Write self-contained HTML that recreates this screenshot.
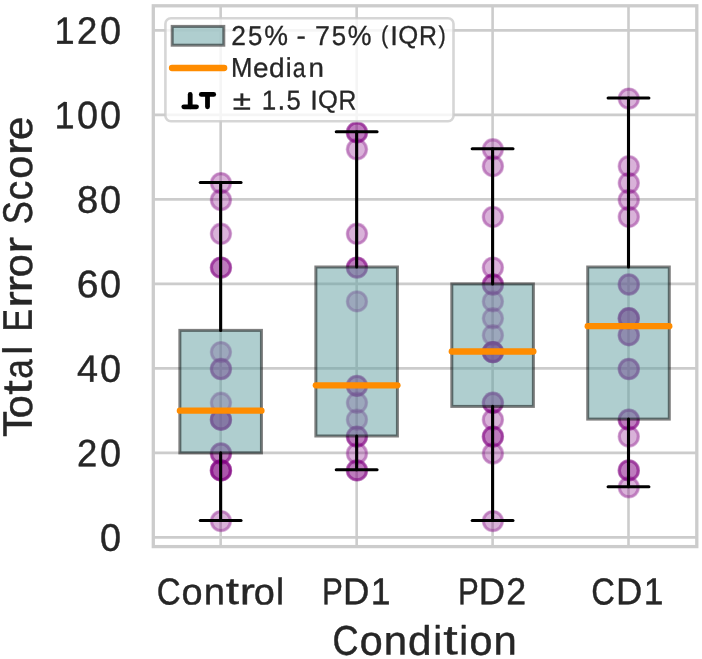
<!DOCTYPE html>
<html><head><meta charset="utf-8"><title>Total Error Score by Condition</title><style>html,body{margin:0;padding:0;background:#fff;}body{width:702px;height:659px;overflow:hidden;}svg{display:block;will-change:transform;font-family:"Liberation Sans",sans-serif;font-kerning:none;font-variant-ligatures:none;}text{font-kerning:none;}</style></head><body>
<svg width="702" height="659" viewBox="0 0 702 659" font-family="Liberation Sans, sans-serif">
<rect width="702" height="659" fill="#ffffff"/>
<g stroke="#cccccc" stroke-width="2.6" fill="none">
<line x1="153.3" y1="537.40" x2="696.8" y2="537.40"/>
<line x1="153.3" y1="452.90" x2="696.8" y2="452.90"/>
<line x1="153.3" y1="368.40" x2="696.8" y2="368.40"/>
<line x1="153.3" y1="283.90" x2="696.8" y2="283.90"/>
<line x1="153.3" y1="199.40" x2="696.8" y2="199.40"/>
<line x1="153.3" y1="114.90" x2="696.8" y2="114.90"/>
<line x1="153.3" y1="30.40" x2="696.8" y2="30.40"/>
<line x1="220.65" y1="5.8" x2="220.65" y2="546.6"/>
<line x1="356.65" y1="5.8" x2="356.65" y2="546.6"/>
<line x1="492.60" y1="5.8" x2="492.60" y2="546.6"/>
<line x1="628.50" y1="5.8" x2="628.50" y2="546.6"/>
</g>
<g fill="#800080" fill-opacity="0.3" stroke="#800080" stroke-opacity="0.3" stroke-width="2.6">
<circle cx="220.95" cy="183.10" r="11.2" stroke="none"/>
<circle cx="220.95" cy="183.10" r="9.2" fill="none"/>
<circle cx="220.95" cy="200.00" r="11.2" stroke="none"/>
<circle cx="220.95" cy="200.00" r="9.2" fill="none"/>
<circle cx="220.95" cy="233.80" r="11.2" stroke="none"/>
<circle cx="220.95" cy="233.80" r="9.2" fill="none"/>
<circle cx="220.95" cy="267.60" r="11.2" stroke="none"/>
<circle cx="220.95" cy="267.60" r="9.2" fill="none"/>
<circle cx="220.95" cy="267.60" r="11.2" stroke="none"/>
<circle cx="220.95" cy="267.60" r="9.2" fill="none"/>
<circle cx="220.95" cy="352.10" r="11.2" stroke="none"/>
<circle cx="220.95" cy="352.10" r="9.2" fill="none"/>
<circle cx="220.95" cy="369.00" r="11.2" stroke="none"/>
<circle cx="220.95" cy="369.00" r="9.2" fill="none"/>
<circle cx="220.95" cy="369.00" r="11.2" stroke="none"/>
<circle cx="220.95" cy="369.00" r="9.2" fill="none"/>
<circle cx="220.95" cy="402.80" r="11.2" stroke="none"/>
<circle cx="220.95" cy="402.80" r="9.2" fill="none"/>
<circle cx="220.95" cy="419.70" r="11.2" stroke="none"/>
<circle cx="220.95" cy="419.70" r="9.2" fill="none"/>
<circle cx="220.95" cy="419.70" r="11.2" stroke="none"/>
<circle cx="220.95" cy="419.70" r="9.2" fill="none"/>
<circle cx="220.95" cy="419.70" r="11.2" stroke="none"/>
<circle cx="220.95" cy="419.70" r="9.2" fill="none"/>
<circle cx="220.95" cy="453.50" r="11.2" stroke="none"/>
<circle cx="220.95" cy="453.50" r="9.2" fill="none"/>
<circle cx="220.95" cy="453.50" r="11.2" stroke="none"/>
<circle cx="220.95" cy="453.50" r="9.2" fill="none"/>
<circle cx="220.95" cy="470.40" r="11.2" stroke="none"/>
<circle cx="220.95" cy="470.40" r="9.2" fill="none"/>
<circle cx="220.95" cy="470.40" r="11.2" stroke="none"/>
<circle cx="220.95" cy="470.40" r="9.2" fill="none"/>
<circle cx="220.95" cy="470.40" r="11.2" stroke="none"/>
<circle cx="220.95" cy="470.40" r="9.2" fill="none"/>
<circle cx="220.95" cy="521.10" r="11.2" stroke="none"/>
<circle cx="220.95" cy="521.10" r="9.2" fill="none"/>
<circle cx="356.95" cy="132.40" r="11.2" stroke="none"/>
<circle cx="356.95" cy="132.40" r="9.2" fill="none"/>
<circle cx="356.95" cy="132.40" r="11.2" stroke="none"/>
<circle cx="356.95" cy="132.40" r="9.2" fill="none"/>
<circle cx="356.95" cy="149.30" r="11.2" stroke="none"/>
<circle cx="356.95" cy="149.30" r="9.2" fill="none"/>
<circle cx="356.95" cy="233.80" r="11.2" stroke="none"/>
<circle cx="356.95" cy="233.80" r="9.2" fill="none"/>
<circle cx="356.95" cy="267.60" r="11.2" stroke="none"/>
<circle cx="356.95" cy="267.60" r="9.2" fill="none"/>
<circle cx="356.95" cy="267.60" r="11.2" stroke="none"/>
<circle cx="356.95" cy="267.60" r="9.2" fill="none"/>
<circle cx="356.95" cy="301.40" r="11.2" stroke="none"/>
<circle cx="356.95" cy="301.40" r="9.2" fill="none"/>
<circle cx="356.95" cy="385.90" r="11.2" stroke="none"/>
<circle cx="356.95" cy="385.90" r="9.2" fill="none"/>
<circle cx="356.95" cy="385.90" r="11.2" stroke="none"/>
<circle cx="356.95" cy="385.90" r="9.2" fill="none"/>
<circle cx="356.95" cy="402.80" r="11.2" stroke="none"/>
<circle cx="356.95" cy="402.80" r="9.2" fill="none"/>
<circle cx="356.95" cy="419.70" r="11.2" stroke="none"/>
<circle cx="356.95" cy="419.70" r="9.2" fill="none"/>
<circle cx="356.95" cy="436.60" r="11.2" stroke="none"/>
<circle cx="356.95" cy="436.60" r="9.2" fill="none"/>
<circle cx="356.95" cy="436.60" r="11.2" stroke="none"/>
<circle cx="356.95" cy="436.60" r="9.2" fill="none"/>
<circle cx="356.95" cy="453.50" r="11.2" stroke="none"/>
<circle cx="356.95" cy="453.50" r="9.2" fill="none"/>
<circle cx="356.95" cy="470.40" r="11.2" stroke="none"/>
<circle cx="356.95" cy="470.40" r="9.2" fill="none"/>
<circle cx="356.95" cy="470.40" r="11.2" stroke="none"/>
<circle cx="356.95" cy="470.40" r="9.2" fill="none"/>
<circle cx="492.90" cy="149.30" r="11.2" stroke="none"/>
<circle cx="492.90" cy="149.30" r="9.2" fill="none"/>
<circle cx="492.90" cy="166.20" r="11.2" stroke="none"/>
<circle cx="492.90" cy="166.20" r="9.2" fill="none"/>
<circle cx="492.90" cy="216.90" r="11.2" stroke="none"/>
<circle cx="492.90" cy="216.90" r="9.2" fill="none"/>
<circle cx="492.90" cy="267.60" r="11.2" stroke="none"/>
<circle cx="492.90" cy="267.60" r="9.2" fill="none"/>
<circle cx="492.90" cy="284.50" r="11.2" stroke="none"/>
<circle cx="492.90" cy="284.50" r="9.2" fill="none"/>
<circle cx="492.90" cy="284.50" r="11.2" stroke="none"/>
<circle cx="492.90" cy="284.50" r="9.2" fill="none"/>
<circle cx="492.90" cy="301.40" r="11.2" stroke="none"/>
<circle cx="492.90" cy="301.40" r="9.2" fill="none"/>
<circle cx="492.90" cy="318.30" r="11.2" stroke="none"/>
<circle cx="492.90" cy="318.30" r="9.2" fill="none"/>
<circle cx="492.90" cy="335.20" r="11.2" stroke="none"/>
<circle cx="492.90" cy="335.20" r="9.2" fill="none"/>
<circle cx="492.90" cy="352.10" r="11.2" stroke="none"/>
<circle cx="492.90" cy="352.10" r="9.2" fill="none"/>
<circle cx="492.90" cy="352.10" r="11.2" stroke="none"/>
<circle cx="492.90" cy="352.10" r="9.2" fill="none"/>
<circle cx="492.90" cy="352.10" r="11.2" stroke="none"/>
<circle cx="492.90" cy="352.10" r="9.2" fill="none"/>
<circle cx="492.90" cy="352.10" r="11.2" stroke="none"/>
<circle cx="492.90" cy="352.10" r="9.2" fill="none"/>
<circle cx="492.90" cy="402.80" r="11.2" stroke="none"/>
<circle cx="492.90" cy="402.80" r="9.2" fill="none"/>
<circle cx="492.90" cy="402.80" r="11.2" stroke="none"/>
<circle cx="492.90" cy="402.80" r="9.2" fill="none"/>
<circle cx="492.90" cy="419.70" r="11.2" stroke="none"/>
<circle cx="492.90" cy="419.70" r="9.2" fill="none"/>
<circle cx="492.90" cy="436.60" r="11.2" stroke="none"/>
<circle cx="492.90" cy="436.60" r="9.2" fill="none"/>
<circle cx="492.90" cy="436.60" r="11.2" stroke="none"/>
<circle cx="492.90" cy="436.60" r="9.2" fill="none"/>
<circle cx="492.90" cy="453.50" r="11.2" stroke="none"/>
<circle cx="492.90" cy="453.50" r="9.2" fill="none"/>
<circle cx="492.90" cy="521.10" r="11.2" stroke="none"/>
<circle cx="492.90" cy="521.10" r="9.2" fill="none"/>
<circle cx="628.80" cy="98.60" r="11.2" stroke="none"/>
<circle cx="628.80" cy="98.60" r="9.2" fill="none"/>
<circle cx="628.80" cy="166.20" r="11.2" stroke="none"/>
<circle cx="628.80" cy="166.20" r="9.2" fill="none"/>
<circle cx="628.80" cy="183.10" r="11.2" stroke="none"/>
<circle cx="628.80" cy="183.10" r="9.2" fill="none"/>
<circle cx="628.80" cy="200.00" r="11.2" stroke="none"/>
<circle cx="628.80" cy="200.00" r="9.2" fill="none"/>
<circle cx="628.80" cy="216.90" r="11.2" stroke="none"/>
<circle cx="628.80" cy="216.90" r="9.2" fill="none"/>
<circle cx="628.80" cy="284.50" r="11.2" stroke="none"/>
<circle cx="628.80" cy="284.50" r="9.2" fill="none"/>
<circle cx="628.80" cy="284.50" r="11.2" stroke="none"/>
<circle cx="628.80" cy="284.50" r="9.2" fill="none"/>
<circle cx="628.80" cy="318.30" r="11.2" stroke="none"/>
<circle cx="628.80" cy="318.30" r="9.2" fill="none"/>
<circle cx="628.80" cy="318.30" r="11.2" stroke="none"/>
<circle cx="628.80" cy="318.30" r="9.2" fill="none"/>
<circle cx="628.80" cy="318.30" r="11.2" stroke="none"/>
<circle cx="628.80" cy="318.30" r="9.2" fill="none"/>
<circle cx="628.80" cy="335.20" r="11.2" stroke="none"/>
<circle cx="628.80" cy="335.20" r="9.2" fill="none"/>
<circle cx="628.80" cy="335.20" r="11.2" stroke="none"/>
<circle cx="628.80" cy="335.20" r="9.2" fill="none"/>
<circle cx="628.80" cy="369.00" r="11.2" stroke="none"/>
<circle cx="628.80" cy="369.00" r="9.2" fill="none"/>
<circle cx="628.80" cy="369.00" r="11.2" stroke="none"/>
<circle cx="628.80" cy="369.00" r="9.2" fill="none"/>
<circle cx="628.80" cy="419.70" r="11.2" stroke="none"/>
<circle cx="628.80" cy="419.70" r="9.2" fill="none"/>
<circle cx="628.80" cy="419.70" r="11.2" stroke="none"/>
<circle cx="628.80" cy="419.70" r="9.2" fill="none"/>
<circle cx="628.80" cy="436.60" r="11.2" stroke="none"/>
<circle cx="628.80" cy="436.60" r="9.2" fill="none"/>
<circle cx="628.80" cy="470.40" r="11.2" stroke="none"/>
<circle cx="628.80" cy="470.40" r="9.2" fill="none"/>
<circle cx="628.80" cy="470.40" r="11.2" stroke="none"/>
<circle cx="628.80" cy="470.40" r="9.2" fill="none"/>
<circle cx="628.80" cy="487.30" r="11.2" stroke="none"/>
<circle cx="628.80" cy="487.30" r="9.2" fill="none"/>
</g>
<rect x="179.87" y="330.38" width="81.57" height="122.52" fill="#5f9ea0" fill-opacity="0.5" stroke="#000" stroke-opacity="0.5" stroke-width="3.0"/>
<g stroke="#000" stroke-width="3.1" stroke-linecap="round" fill="none">
<line x1="220.65" y1="452.90" x2="220.65" y2="520.50"/>
<line x1="220.65" y1="330.38" x2="220.65" y2="182.50"/>
<line x1="200.26" y1="520.50" x2="241.04" y2="520.50"/>
<line x1="200.26" y1="182.50" x2="241.04" y2="182.50"/>
</g>
<line x1="179.87" y1="410.65" x2="261.44" y2="410.65" stroke="#ff8c00" stroke-width="6.3" stroke-linecap="round"/>
<rect x="315.86" y="267.00" width="81.57" height="169.00" fill="#5f9ea0" fill-opacity="0.5" stroke="#000" stroke-opacity="0.5" stroke-width="3.0"/>
<g stroke="#000" stroke-width="3.1" stroke-linecap="round" fill="none">
<line x1="356.65" y1="436.00" x2="356.65" y2="469.80"/>
<line x1="356.65" y1="267.00" x2="356.65" y2="131.80"/>
<line x1="336.26" y1="469.80" x2="377.04" y2="469.80"/>
<line x1="336.26" y1="131.80" x2="377.04" y2="131.80"/>
</g>
<line x1="315.86" y1="385.30" x2="397.44" y2="385.30" stroke="#ff8c00" stroke-width="6.3" stroke-linecap="round"/>
<rect x="451.81" y="283.90" width="81.57" height="122.52" fill="#5f9ea0" fill-opacity="0.5" stroke="#000" stroke-opacity="0.5" stroke-width="3.0"/>
<g stroke="#000" stroke-width="3.1" stroke-linecap="round" fill="none">
<line x1="492.60" y1="406.42" x2="492.60" y2="520.50"/>
<line x1="492.60" y1="283.90" x2="492.60" y2="148.70"/>
<line x1="472.21" y1="520.50" x2="512.99" y2="520.50"/>
<line x1="472.21" y1="148.70" x2="512.99" y2="148.70"/>
</g>
<line x1="451.81" y1="351.50" x2="533.38" y2="351.50" stroke="#ff8c00" stroke-width="6.3" stroke-linecap="round"/>
<rect x="587.72" y="267.00" width="81.57" height="152.10" fill="#5f9ea0" fill-opacity="0.5" stroke="#000" stroke-opacity="0.5" stroke-width="3.0"/>
<g stroke="#000" stroke-width="3.1" stroke-linecap="round" fill="none">
<line x1="628.50" y1="419.10" x2="628.50" y2="486.70"/>
<line x1="628.50" y1="267.00" x2="628.50" y2="98.00"/>
<line x1="608.11" y1="486.70" x2="648.89" y2="486.70"/>
<line x1="608.11" y1="98.00" x2="648.89" y2="98.00"/>
</g>
<line x1="587.72" y1="326.15" x2="669.28" y2="326.15" stroke="#ff8c00" stroke-width="6.3" stroke-linecap="round"/>
<rect x="153.3" y="5.8" width="543.50" height="540.80" fill="none" stroke="#cccccc" stroke-width="3.3" stroke-linejoin="miter"/>
<rect x="165.4" y="18.3" width="288.10" height="103.00" rx="5.5" ry="5.5" fill="#ffffff" fill-opacity="0.8" stroke="#cccccc" stroke-opacity="0.8" stroke-width="2.6"/>
<rect x="172.2" y="26.4" width="51.6" height="18.8" fill="#5f9ea0" fill-opacity="0.5" stroke="#000" stroke-opacity="0.5" stroke-width="3.0"/>
<line x1="172" y1="68" x2="224.2" y2="68" stroke="#ff8c00" stroke-width="6.3" stroke-linecap="round"/>
<g stroke="#000" stroke-width="4.8" stroke-linecap="round" fill="none"><line x1="190.2" y1="94.4" x2="190.2" y2="106.8"/><line x1="183.8" y1="106.8" x2="196.5" y2="106.8"/><line x1="201.3" y1="94.4" x2="213.7" y2="94.4"/><line x1="207.5" y1="94.4" x2="207.5" y2="106.8"/></g>
<g font-size="40.0" fill="#262626" stroke="#262626" stroke-width="0.45" stroke-linejoin="round"><text transform="translate(99.882 550.834) rotate(0.05) scale(0.9461 0.9588)">0</text></g>
<g font-size="40.0" fill="#262626" stroke="#262626" stroke-width="0.45" stroke-linejoin="round"><text transform="translate(76.947 466.200) rotate(0.05) scale(0.9119 0.9540)">2</text><text transform="translate(99.882 466.334) rotate(0.05) scale(0.9461 0.9588)">0</text></g>
<g font-size="40.0" fill="#262626" stroke="#262626" stroke-width="0.45" stroke-linejoin="round"><text transform="translate(77.037 381.700) rotate(0.05) scale(0.9462 0.9510)">4</text><text transform="translate(99.882 381.834) rotate(0.05) scale(0.9461 0.9588)">0</text></g>
<g font-size="40.0" fill="#262626" stroke="#262626" stroke-width="0.45" stroke-linejoin="round"><text transform="translate(76.670 297.334) rotate(0.05) scale(0.9792 0.9588)">6</text><text transform="translate(99.882 297.334) rotate(0.05) scale(0.9461 0.9588)">0</text></g>
<g font-size="40.0" fill="#262626" stroke="#262626" stroke-width="0.45" stroke-linejoin="round"><text transform="translate(76.927 212.834) rotate(0.05) scale(0.9563 0.9588)">8</text><text transform="translate(99.882 212.834) rotate(0.05) scale(0.9461 0.9588)">0</text></g>
<g font-size="40.0" fill="#262626" stroke="#262626" stroke-width="0.45" stroke-linejoin="round"><text transform="translate(54.503 128.200) rotate(0.05) scale(0.9036 0.9510)">1</text><text transform="translate(77.041 128.334) rotate(0.05) scale(0.9461 0.9588)">0</text><text transform="translate(99.882 128.334) rotate(0.05) scale(0.9461 0.9588)">0</text></g>
<g font-size="40.0" fill="#262626" stroke="#262626" stroke-width="0.45" stroke-linejoin="round"><text transform="translate(54.503 43.700) rotate(0.05) scale(0.9036 0.9510)">1</text><text transform="translate(76.947 43.700) rotate(0.05) scale(0.9119 0.9540)">2</text><text transform="translate(99.882 43.834) rotate(0.05) scale(0.9461 0.9588)">0</text></g>
<g font-size="40.0" fill="#262626" stroke="#262626" stroke-width="0.45" stroke-linejoin="round"><text transform="translate(156.724 604.432) rotate(0.05) scale(0.8252 0.9428)">C</text><text transform="translate(181.605 604.439) rotate(0.05) scale(0.9450 0.9250)">o</text><text transform="translate(203.669 604.300) rotate(0.05) scale(0.9584 0.9185)">n</text><text transform="translate(225.757 604.004) rotate(0.05) scale(1.1881 0.9470)">t</text><text transform="translate(239.667 604.300) rotate(0.05) scale(1.1389 0.9185)">r</text><text transform="translate(253.675 604.439) rotate(0.05) scale(0.9450 0.9250)">o</text><text transform="translate(275.956 604.300) rotate(0.05) scale(0.9087 0.9253)">l</text></g>
<g font-size="40.0" fill="#262626" stroke="#262626" stroke-width="0.45" stroke-linejoin="round"><text transform="translate(322.039 604.300) rotate(0.05) scale(0.7804 0.9351)">P</text><text transform="translate(342.889 604.300) rotate(0.05) scale(0.9130 0.9351)">D</text><text transform="translate(370.771 604.300) rotate(0.05) scale(0.8884 0.9351)">1</text></g>
<g font-size="40.0" fill="#262626" stroke="#262626" stroke-width="0.45" stroke-linejoin="round"><text transform="translate(458.048 604.300) rotate(0.05) scale(0.7777 0.9351)">P</text><text transform="translate(478.825 604.300) rotate(0.05) scale(0.9098 0.9351)">D</text><text transform="translate(506.221 604.300) rotate(0.05) scale(0.8935 0.9380)">2</text></g>
<g font-size="40.0" fill="#262626" stroke="#262626" stroke-width="0.45" stroke-linejoin="round"><text transform="translate(591.242 604.432) rotate(0.05) scale(0.8163 0.9428)">C</text><text transform="translate(615.951 604.300) rotate(0.05) scale(0.9098 0.9351)">D</text><text transform="translate(643.735 604.300) rotate(0.05) scale(0.8853 0.9351)">1</text></g>
<g font-size="40.0" fill="#262626" stroke="#262626" stroke-width="0.45" stroke-linejoin="round"><text transform="translate(332.470 654.745) rotate(0.05) scale(0.9011 1.0389)">C</text><text transform="translate(359.639 654.753) rotate(0.05) scale(1.0319 1.0193)">o</text><text transform="translate(383.731 654.600) rotate(0.05) scale(1.0465 1.0122)">n</text><text transform="translate(407.963 654.750) rotate(0.05) scale(1.0550 1.0249)">d</text><text transform="translate(433.242 654.600) rotate(0.05) scale(0.9922 1.0197)">i</text><text transform="translate(443.283 654.274) rotate(0.05) scale(1.2973 1.0436)">t</text><text transform="translate(459.253 654.600) rotate(0.05) scale(0.9922 1.0197)">i</text><text transform="translate(469.445 654.753) rotate(0.05) scale(1.0319 1.0193)">o</text><text transform="translate(493.537 654.600) rotate(0.05) scale(1.0465 1.0122)">n</text></g>
<g font-size="40.0" fill="#262626" stroke="#262626" stroke-width="0.45" stroke-linejoin="round" transform="translate(31.8,0) rotate(-90)"><text transform="translate(-436.954 0.000) rotate(0.05) scale(1.0614 1.0305)">T</text><text transform="translate(-418.313 0.153) rotate(0.05) scale(1.0345 1.0193)">o</text><text transform="translate(-394.650 -0.326) rotate(0.05) scale(1.3006 1.0436)">t</text><text transform="translate(-378.795 0.153) rotate(0.05) scale(0.8751 1.0193)">a</text><text transform="translate(-354.805 0.000) rotate(0.05) scale(0.9948 1.0197)">l</text><text transform="translate(-331.551 0.000) rotate(0.05) scale(0.8434 1.0305)">E</text><text transform="translate(-307.786 -0.000) rotate(0.05) scale(1.2468 1.0122)">r</text><text transform="translate(-292.467 -0.000) rotate(0.05) scale(1.2468 1.0122)">r</text><text transform="translate(-277.132 0.153) rotate(0.05) scale(1.0345 1.0193)">o</text><text transform="translate(-253.504 -0.000) rotate(0.05) scale(1.2468 1.0122)">r</text><text transform="translate(-224.360 0.145) rotate(0.05) scale(0.8675 1.0389)">S</text><text transform="translate(-200.153 0.153) rotate(0.05) scale(0.9764 1.0193)">c</text><text transform="translate(-178.830 0.153) rotate(0.05) scale(1.0345 1.0193)">o</text><text transform="translate(-155.201 -0.000) rotate(0.05) scale(1.2468 1.0122)">r</text><text transform="translate(-139.915 0.153) rotate(0.05) scale(1.0511 1.0193)">e</text></g>
<g font-size="40.0" fill="#262626" stroke="#262626" stroke-width="0.45" stroke-linejoin="round"><text transform="translate(231.173 44.900) rotate(0.05) scale(0.6598 0.6829)">2</text><text transform="translate(248.093 44.997) rotate(0.05) scale(0.6460 0.6843)">5</text><text transform="translate(264.133 45.101) rotate(0.05) scale(0.6668 0.6945)">%</text><text transform="translate(296.613 44.857) rotate(0.05) scale(0.7000 0.6586)">-</text><text transform="translate(314.976 44.900) rotate(0.05) scale(0.6696 0.6808)">7</text><text transform="translate(331.714 44.997) rotate(0.05) scale(0.6460 0.6843)">5</text><text transform="translate(347.754 45.101) rotate(0.05) scale(0.6668 0.6945)">%</text><text transform="translate(381.080 43.202) rotate(0.05) scale(0.5489 0.6142)">(</text><text transform="translate(390.358 44.900) rotate(0.05) scale(0.6868 0.6808)">I</text><text transform="translate(398.247 43.445) rotate(0.05) scale(0.6420 0.6308)">Q</text><text transform="translate(418.961 44.900) rotate(0.05) scale(0.6211 0.6808)">R</text><text transform="translate(438.450 43.202) rotate(0.05) scale(0.5489 0.6142)">)</text></g>
<g font-size="40.0" fill="#262626" stroke="#262626" stroke-width="0.45" stroke-linejoin="round"><text transform="translate(230.993 76.800) rotate(0.05) scale(0.6423 0.6808)">M</text><text transform="translate(253.042 76.901) rotate(0.05) scale(0.6958 0.6734)">e</text><text transform="translate(268.900 76.899) rotate(0.05) scale(0.7001 0.6771)">d</text><text transform="translate(285.677 76.800) rotate(0.05) scale(0.6585 0.6737)">i</text><text transform="translate(292.732 76.901) rotate(0.05) scale(0.5793 0.6734)">a</text><text transform="translate(308.454 76.800) rotate(0.05) scale(0.6945 0.6687)">n</text></g>
<g font-size="40.0" fill="#262626" stroke="#262626" stroke-width="0.45" stroke-linejoin="round"><text transform="translate(232.744 109.500) rotate(0.05) scale(0.8316 0.6768)">±</text><text transform="translate(261.760 109.500) rotate(0.05) scale(0.6498 0.6808)">1</text><text transform="translate(277.540 109.500) rotate(0.05) scale(0.6984 0.7452)">.</text><text transform="translate(286.500 109.597) rotate(0.05) scale(0.6421 0.6843)">5</text><text transform="translate(310.183 109.500) rotate(0.05) scale(0.6826 0.6808)">I</text><text transform="translate(318.024 108.045) rotate(0.05) scale(0.6381 0.6308)">Q</text><text transform="translate(338.613 109.500) rotate(0.05) scale(0.6173 0.6808)">R</text></g>
</svg>
</body></html>
